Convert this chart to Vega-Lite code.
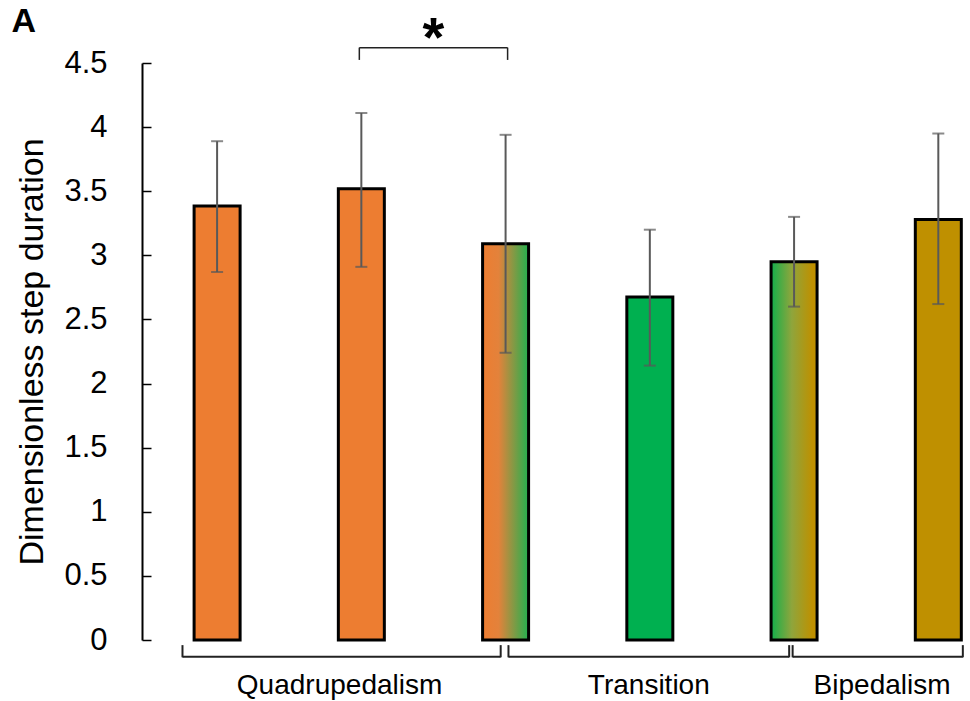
{
  "$schema": "https://vega.github.io/schema/vega-lite/v6.json",
  "width": 828,
  "height": 577,
  "autosize": {"type": "none"},
  "padding": {"left": 142, "top": 63, "right": 0, "bottom": 61},
  "background": "white",
  "config": {"view": {"stroke": null}, "font": "Liberation Sans"},
  "datasets": {
    "bars": [
      {"idx": 1, "group": "Quadrupedalism", "phase": "Quadrupedal", "mean": 3.385, "lo": 2.87, "hi": 3.89},
      {"idx": 2, "group": "Quadrupedalism", "phase": "Quadrupedal", "mean": 3.52, "lo": 2.91, "hi": 4.11},
      {"idx": 3, "group": "Quadrupedalism", "phase": "Quadrupedal-Transition", "mean": 3.09, "lo": 2.24, "hi": 3.94},
      {"idx": 4, "group": "Transition", "phase": "Transition", "mean": 2.675, "lo": 2.14, "hi": 3.2},
      {"idx": 5, "group": "Transition", "phase": "Transition-Bipedal", "mean": 2.95, "lo": 2.6, "hi": 3.3},
      {"idx": 6, "group": "Bipedalism", "phase": "Bipedal", "mean": 3.28, "lo": 2.62, "hi": 3.95}
    ],
    "brackets": [
      {"label": "Quadrupedalism", "start": 0.76, "end": 2.966, "mid": 1.849},
      {"label": "Transition", "start": 3.02, "end": 4.966, "mid": 3.993},
      {"label": "Bipedalism", "start": 4.99, "end": 6.17, "mid": 5.61}
    ],
    "sig": [
      {"label": "*", "start": 1.986, "end": 3.014, "mid": 2.5}
    ]
  },
  "layer": [
    {
      "data": {"name": "bars"},
      "transform": [{"filter": "datum.phase === 'Quadrupedal' || datum.phase === 'Transition' || datum.phase === 'Bipedal'"}],
      "mark": {"type": "bar", "orient": "vertical", "width": 46, "stroke": "black", "strokeWidth": 3},
      "encoding": {
        "x": {"field": "idx", "type": "quantitative", "scale": {"domain": [0.514, 6.185], "nice": false, "zero": false}, "axis": null},
        "y": {"field": "mean", "type": "quantitative", "title": "Dimensionless step duration",
          "scale": {"domain": [0, 4.5], "nice": false},
          "axis": {"values": [0, 0.5, 1, 1.5, 2, 2.5, 3, 3.5, 4, 4.5], "format": "~g", "grid": false,
            "domainColor": "black", "domainWidth": 2, "tickColor": "black", "tickWidth": 1.5, "tickSize": -9,
            "labelPadding": 44, "labelFontSize": 31, "labelColor": "black", "labelFont": "Liberation Sans",
            "titleFontSize": 34, "titleFontWeight": "normal", "titleColor": "black", "titleFont": "Liberation Sans", "titlePadding": 14}},
        "fill": {"field": "phase", "type": "nominal", "scale": {"domain": ["Quadrupedal", "Transition", "Bipedal"], "range": ["#ED7D31", "#00B050", "#BF9000"]}, "legend": null}
      }
    },
    {
      "data": {"name": "bars"},
      "transform": [{"filter": "datum.phase === 'Quadrupedal-Transition'"}],
      "mark": {"type": "bar", "orient": "vertical", "width": 46, "stroke": "black", "strokeWidth": 3,
        "fill": {"gradient": "linear", "x1": 0, "y1": 0, "x2": 1, "y2": 0,
          "stops": [{"offset": 0, "color": "#ED7D31"}, {"offset": 0.35, "color": "#E3823B"}, {"offset": 1, "color": "#22B14F"}]}},
      "encoding": {
        "x": {"field": "idx", "type": "quantitative", "scale": {"domain": [0.514, 6.185], "nice": false, "zero": false}, "axis": null},
        "y": {"field": "mean", "type": "quantitative", "title": "Dimensionless step duration", "scale": {"domain": [0, 4.5], "nice": false}}
      }
    },
    {
      "data": {"name": "bars"},
      "transform": [{"filter": "datum.phase === 'Transition-Bipedal'"}],
      "mark": {"type": "bar", "orient": "vertical", "width": 46, "stroke": "black", "strokeWidth": 3,
        "fill": {"gradient": "linear", "x1": 0, "y1": 0, "x2": 1, "y2": 0,
          "stops": [{"offset": 0, "color": "#12B04C"}, {"offset": 0.45, "color": "#8FA53C"}, {"offset": 0.9, "color": "#BF9000"}, {"offset": 1, "color": "#BF9000"}]}},
      "encoding": {
        "x": {"field": "idx", "type": "quantitative", "scale": {"domain": [0.514, 6.185], "nice": false, "zero": false}, "axis": null},
        "y": {"field": "mean", "type": "quantitative", "title": "Dimensionless step duration", "scale": {"domain": [0, 4.5], "nice": false}}
      }
    },
    {
      "data": {"name": "bars"},
      "mark": {"type": "rule", "color": "#595959", "strokeWidth": 2},
      "encoding": {
        "x": {"field": "idx", "type": "quantitative", "scale": {"domain": [0.514, 6.185], "nice": false, "zero": false}, "axis": null},
        "y": {"field": "lo", "type": "quantitative", "title": "Dimensionless step duration", "scale": {"domain": [0, 4.5], "nice": false}},
        "y2": {"field": "hi"}
      }
    },
    {
      "data": {"name": "bars"},
      "transform": [{"fold": ["lo", "hi"], "as": ["end", "val"]}],
      "mark": {"type": "tick", "orient": "horizontal", "color": "#595959", "thickness": 2, "size": 12},
      "encoding": {
        "x": {"field": "idx", "type": "quantitative", "scale": {"domain": [0.514, 6.185], "nice": false, "zero": false}, "axis": null},
        "y": {"field": "val", "type": "quantitative", "title": "Dimensionless step duration", "scale": {"domain": [0, 4.5], "nice": false}}
      }
    },
    {
      "data": {"name": "brackets"},
      "mark": {"type": "rule", "color": "#222222", "strokeWidth": 2},
      "encoding": {
        "x": {"field": "start", "type": "quantitative", "scale": {"domain": [0.514, 6.185], "nice": false, "zero": false}, "axis": null},
        "x2": {"field": "end"},
        "y": {"datum": -0.13, "type": "quantitative", "scale": {"domain": [0, 4.5], "nice": false}, "title": "Dimensionless step duration"}
      }
    },
    {
      "data": {"name": "brackets"},
      "transform": [{"fold": ["start", "end"], "as": ["side", "xpos"]}],
      "mark": {"type": "rule", "color": "#222222", "strokeWidth": 2},
      "encoding": {
        "x": {"field": "xpos", "type": "quantitative", "scale": {"domain": [0.514, 6.185], "nice": false, "zero": false}, "axis": null},
        "y": {"datum": -0.04, "type": "quantitative", "scale": {"domain": [0, 4.5], "nice": false}, "title": "Dimensionless step duration"},
        "y2": {"datum": -0.135}
      }
    },
    {
      "data": {"name": "brackets"},
      "mark": {"type": "text", "fontSize": 28, "color": "black", "baseline": "middle", "align": "center", "font": "Liberation Sans"},
      "encoding": {
        "x": {"field": "mid", "type": "quantitative", "scale": {"domain": [0.514, 6.185], "nice": false, "zero": false}, "axis": null},
        "y": {"datum": -0.355, "type": "quantitative", "scale": {"domain": [0, 4.5], "nice": false}, "title": "Dimensionless step duration"},
        "text": {"field": "label"}
      }
    },
    {
      "data": {"name": "sig"},
      "mark": {"type": "rule", "color": "#222222", "strokeWidth": 1.5},
      "encoding": {
        "x": {"field": "start", "type": "quantitative", "scale": {"domain": [0.514, 6.185], "nice": false, "zero": false}, "axis": null},
        "x2": {"field": "end"},
        "y": {"datum": 4.618, "type": "quantitative", "scale": {"domain": [0, 4.5], "nice": false}, "title": "Dimensionless step duration"}
      }
    },
    {
      "data": {"name": "sig"},
      "transform": [{"fold": ["start", "end"], "as": ["side", "xpos"]}],
      "mark": {"type": "rule", "color": "#222222", "strokeWidth": 1.5},
      "encoding": {
        "x": {"field": "xpos", "type": "quantitative", "scale": {"domain": [0.514, 6.185], "nice": false, "zero": false}, "axis": null},
        "y": {"datum": 4.524, "type": "quantitative", "scale": {"domain": [0, 4.5], "nice": false}, "title": "Dimensionless step duration"},
        "y2": {"datum": 4.62}
      }
    },
    {
      "data": {"name": "sig"},
      "mark": {"type": "text", "fontSize": 56, "fontWeight": "bold", "color": "black", "baseline": "middle", "align": "center", "font": "Liberation Sans"},
      "encoding": {
        "x": {"field": "mid", "type": "quantitative", "scale": {"domain": [0.514, 6.185], "nice": false, "zero": false}, "axis": null},
        "y": {"datum": 4.69, "type": "quantitative", "scale": {"domain": [0, 4.5], "nice": false}, "title": "Dimensionless step duration"},
        "text": {"field": "label"}
      }
    },
    {
      "data": {"values": [{"panel": "A"}]},
      "mark": {"type": "text", "fontSize": 34, "fontWeight": "bold", "color": "black", "baseline": "top", "align": "left", "font": "Liberation Sans"},
      "encoding": {
        "x": {"datum": -0.425, "type": "quantitative", "scale": {"domain": [0.514, 6.185], "nice": false, "zero": false}, "axis": null},
        "y": {"datum": 4.955, "type": "quantitative", "scale": {"domain": [0, 4.5], "nice": false}, "title": "Dimensionless step duration"},
        "text": {"field": "panel"}
      }
    }
  ]
}
